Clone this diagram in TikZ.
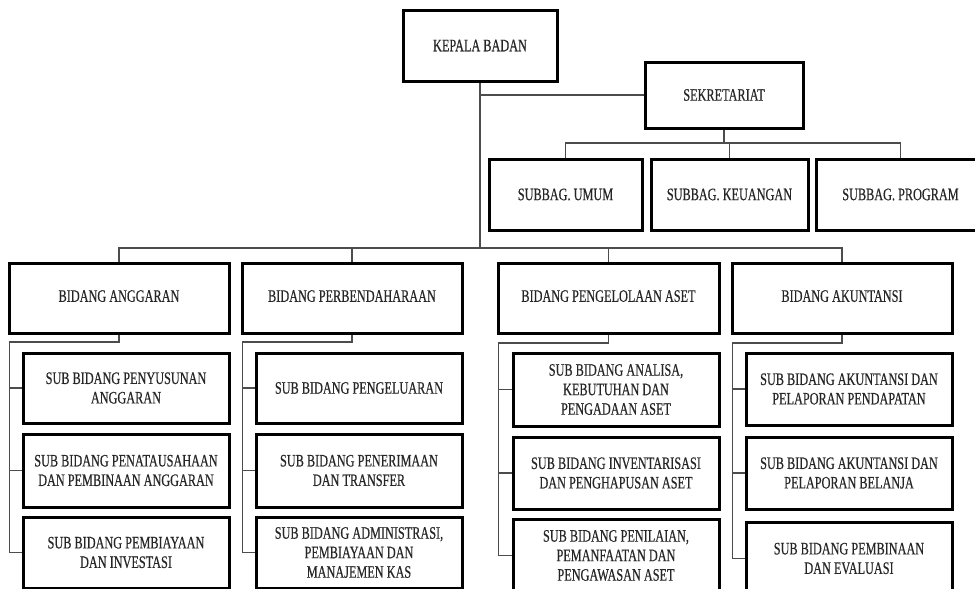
\documentclass[tikz,border=0pt]{standalone}
\usepackage{fontspec}
\setmainfont{Liberation Serif}[FakeStretch=0.7,FakeBold=0.4]
\begin{document}
\begin{tikzpicture}[x=1pt,y=-1pt,
  box/.style={draw=black,line width=3pt,inner sep=0pt,align=center,text=black!85,
    font=\fontsize{17.5}{19.5}\selectfont},
  conn/.style={draw=black!70,line width=1.2pt},
  wsub/.style={minimum width=206pt}]
\clip (0,0) rectangle (975,589);
\fill[white] (0,0) rectangle (975,589);
% top
\node[box,minimum width=154pt,minimum height=71pt] (kepala) at (480,45.5) {KEPALA BADAN};
\node[box,minimum width=158pt,minimum height=66pt] (sekr) at (724,95) {SEKRETARIAT};
\node[box,minimum width=153pt,minimum height=71pt] (umum) at (565.5,194.5) {SUBBAG. UMUM};
\node[box,minimum width=157pt,minimum height=71pt] (keu) at (729.5,194.5) {SUBBAG. KEUANGAN};
\node[box,minimum width=169pt,minimum height=71pt] (prog) at (900.5,194.5) {SUBBAG. PROGRAM};
% bidang
\node[box,minimum width=220pt,minimum height=70pt] (ang) at (119,298) {\raisebox{4pt}{BIDANG ANGGARAN}};
\node[box,minimum width=220pt,minimum height=70pt] (per) at (352,298) {\raisebox{4pt}{BIDANG PERBENDAHARAAN}};
\node[box,minimum width=221pt,minimum height=70pt] (aset) at (608.5,298) {\raisebox{4pt}{BIDANG PENGELOLAAN ASET}};
\node[box,minimum width=220pt,minimum height=70pt] (aku) at (842,298) {\raisebox{4pt}{BIDANG AKUNTANSI}};
% sub anggaran
\node[box,wsub,minimum height=70pt] (ang1) at (126,388) {SUB BIDANG PENYUSUNAN\\ANGGARAN};
\node[box,wsub,minimum height=73pt] (ang2) at (126,470.5) {SUB BIDANG PENATAUSAHAAN\\DAN PEMBINAAN ANGGARAN};
\node[box,wsub,minimum height=71pt] (ang3) at (126,552.5) {SUB BIDANG PEMBIAYAAN\\DAN INVESTASI};
% sub perbendaharaan
\node[box,wsub,minimum height=70pt] (per1) at (359,388) {SUB BIDANG PENGELUARAN};
\node[box,wsub,minimum height=73pt] (per2) at (359,470.5) {SUB BIDANG PENERIMAAN\\DAN TRANSFER};
\node[box,wsub,minimum height=71pt] (per3) at (359,552.5) {SUB BIDANG ADMINISTRASI,\\PEMBIAYAAN DAN\\MANAJEMEN KAS};
% sub aset
\node[box,wsub,minimum height=73pt] (aset1) at (616,389.5) {SUB BIDANG ANALISA,\\KEBUTUHAN DAN\\PENGADAAN ASET};
\node[box,wsub,minimum height=72pt] (aset2) at (616,473) {SUB BIDANG INVENTARISASI\\DAN PENGHAPUSAN ASET};
\node[box,wsub,minimum height=73pt] (aset3) at (616,555.5) {SUB BIDANG PENILAIAN,\\PEMANFAATAN DAN\\PENGAWASAN ASET};
% sub akuntansi
\node[box,wsub,minimum height=72pt] (aku1) at (849,389) {SUB BIDANG AKUNTANSI DAN\\PELAPORAN PENDAPATAN};
\node[box,wsub,minimum height=72pt] (aku2) at (849,473) {SUB BIDANG AKUNTANSI DAN\\PELAPORAN BELANJA};
\node[box,wsub,minimum height=73pt] (aku3) at (849,558.5) {SUB BIDANG PEMBINAAN\\DAN EVALUASI};
% connectors top
\coordinate (mainbar) at (480,248);
\coordinate (sekbar) at (724,143);
\draw[conn] (kepala.south) -- (mainbar);
\draw[conn] (kepala.south |- sekr.west) -- (sekr.west);
\draw[conn] (sekr.south) -- (sekbar);
\draw[conn] (umum.north) |- (sekbar) -| (prog.north);
\draw[conn] (keu.north) -- (keu.north |- sekbar);
\draw[conn] (ang.north) |- (mainbar) -| (aku.north);
\draw[conn] (per.north) -- (per.north |- mainbar);
\draw[conn] (aset.north) -- (aset.north |- mainbar);
% sub trees
\coordinate (angL) at (9.5,342);
\coordinate (perL) at (242.5,342);
\coordinate (asetL) at (498.5,343);
\coordinate (akuL) at (732.5,343);
\draw[conn] (ang.south) |- (angL) |- (ang3.west);
\draw[conn] (angL) |- (ang1.west);
\draw[conn] (angL) |- (ang2.west);
\draw[conn] (per.south) |- (perL) |- (per3.west);
\draw[conn] (perL) |- (per1.west);
\draw[conn] (perL) |- (per2.west);
\draw[conn] (aset.south) |- (asetL) |- (aset3.west);
\draw[conn] (asetL) |- (aset1.west);
\draw[conn] (asetL) |- (aset2.west);
\draw[conn] (aku.south) |- (akuL) |- (aku3.west);
\draw[conn] (akuL) |- (aku1.west);
\draw[conn] (akuL) |- (aku2.west);
\end{tikzpicture}
\end{document}
